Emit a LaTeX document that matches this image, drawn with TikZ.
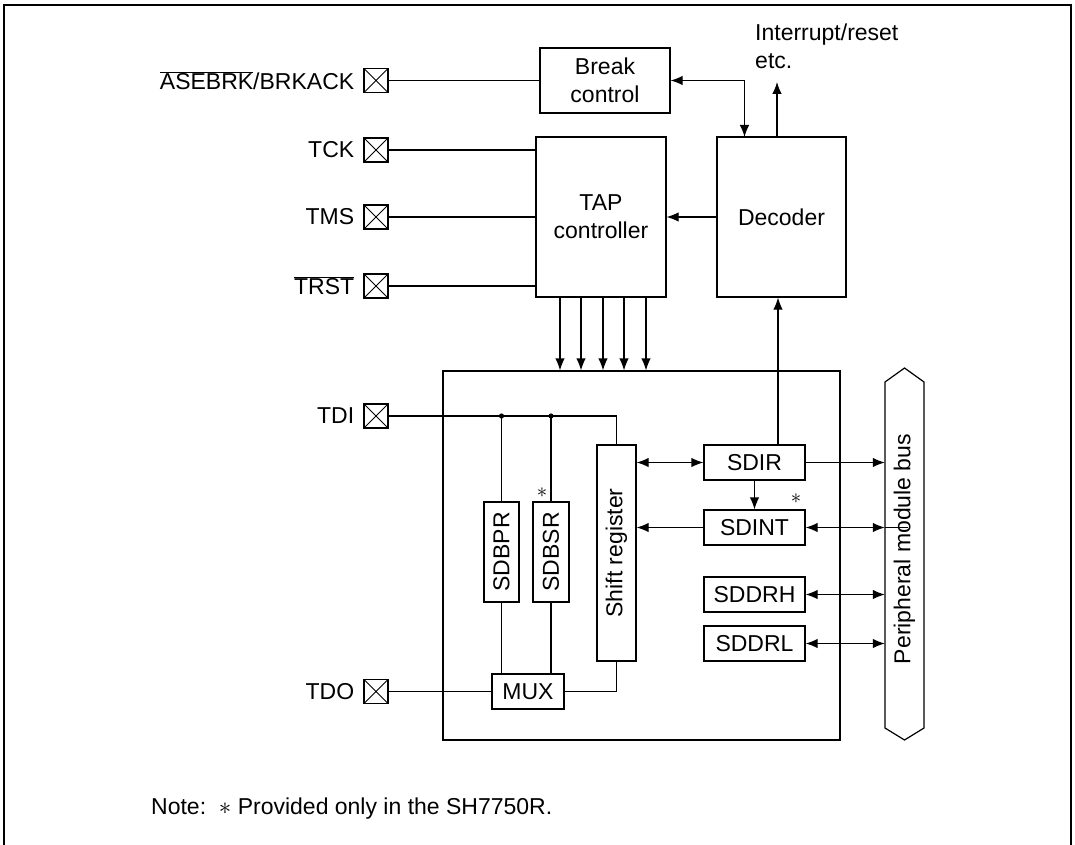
\documentclass[tikz,border=0pt]{standalone}
\usepackage{fontspec}
\setmainfont{Liberation Sans}
\usepackage{graphicx}
\usetikzlibrary{arrows.meta,calc}
\newcommand{\fs}{\fontsize{23}{28}\selectfont}
\newcommand{\fsmall}{\fontsize{20}{24}\selectfont}
\tikzset{
  box/.style={draw, line width=1.2pt, inner sep=0pt, align=center, font=\fs},
  pin/.style={draw, line width=1.2pt, minimum size=24, inner sep=0pt,
    path picture={\draw[line width=0.9pt] (path picture bounding box.south west) -- (path picture bounding box.north east)
      (path picture bounding box.north west) -- (path picture bounding box.south east);}},
  pinlabel/.style={anchor=east, inner sep=0pt, font=\fs},
  wire/.style={line width=1.2pt},
  tip/.style={},
  arr/.style={wire, -{Latex[length=12pt,width=9.5pt]}},
  darr/.style={wire, {Latex[length=12pt,width=9.5pt]}-{Latex[length=12pt,width=9.5pt]}},
  star/.style={inner sep=0pt, font=\fsmall},
}
\begin{document}
\begin{tikzpicture}[x=1pt,y=-1pt]
\useasboundingbox (0,0) rectangle (1075,845);
% frame
\draw[line width=2.5pt] (4,845) -- (4,5) -- (1071,5) -- (1071,845);

% main blocks
\node[box, minimum width=130, minimum height=65] (brk) at (605,80.5) {Break\\control};
\node[box, minimum width=130, minimum height=160] (tap) at (601,217) {TAP\\controller};
\node[box, minimum width=129, minimum height=160] (dec) at (781.5,217) {Decoder};
\node[box, minimum width=397, minimum height=369] (big) at (641.5,555.5) {};

% registers
\node[box, minimum width=35, minimum height=100] (sdbpr) at (501.5,552) {\rotatebox{90}{SDBPR}};
\node[box, minimum width=36, minimum height=100] (sdbsr) at (551,552) {\rotatebox{90}{SDBSR}};
\node[box, minimum width=39, minimum height=216] (shift) at (616.5,553) {\rotatebox{90}{Shift register}};
\node[box, minimum width=72, minimum height=35] (mux) at (528,691.5) {MUX};
\node[box, minimum width=101, minimum height=35] (sdir) at (754.5,462.5) {SDIR};
\node[box, minimum width=101, minimum height=35] (sdint) at (754.5,527.5) {SDINT};
\node[box, minimum width=101, minimum height=35] (sddrh) at (754.5,594.5) {SDDRH};
\node[box, minimum width=101, minimum height=35] (sddrl) at (754.5,643.5) {SDDRL};

% bus
\draw[wire] (885,382) -- (904.5,368) -- (924,382) -- (924,728) -- (904.5,740) -- (885,728) -- cycle;
\node[inner sep=0pt, minimum width=39, minimum height=346, font=\fs] (bus) at (904.5,549) {\rotatebox{90}{Peripheral module bus}};

% pins
\node[pin] (asebrk) at (376,80.5) {};
\node[pin] (tck) at (376,150) {};
\node[pin] (tms) at (376,217) {};
\node[pin] (trst) at (376,286) {};
\node[pin] (tdi) at (376,416) {};
\node[pin] (tdo) at (376,691.5) {};
\node[pinlabel] (lasebrk) at ([xshift=-9]asebrk.west) {$\overline{\mbox{ASEBRK}}$/BRKACK};
\node[pinlabel] (ltck) at ([xshift=-9]tck.west) {TCK};
\node[pinlabel] (ltms) at ([xshift=-9]tms.west) {TMS};
\node[pinlabel] (ltrst) at ([xshift=-9]trst.west) {$\overline{\mbox{TRST}}$};
\node[pinlabel] (ltdi) at ([xshift=-9]tdi.west) {TDI};
\node[pinlabel] (ltdo) at ([xshift=-9]tdo.west) {TDO};

% pin wires
\draw[wire] (asebrk.east) -- (brk.west);
\draw[wire] (tck.east) -- (tck.east -| tap.west);
\draw[wire] (tms.east) -- (tms.east -| tap.west);
\draw[wire] (trst.east) -- (trst.east -| tap.west);

% TAP to big box
\foreach \dx [count=\i] in {-41,-20,2,23,45}{
  \coordinate (t\i) at ($(tap.south)+(\dx,0)$);
  \draw[arr] (t\i) -- (t\i |- big.north);
}

% decoder connections
\draw[arr] (dec.west) -- (tap.east);
\coordinate (bk) at (744.5,137);
\draw[darr] (brk.east) -| (bk);
\coordinate (irq) at (777,82);
\draw[arr] (irq |- dec.north) -- (irq);
\node[anchor=north west, inner sep=0pt, align=left, font=\fs] (irqlabel) at (755,24) {Interrupt/reset\\etc.};
\coordinate (d1) at (778,445);
\draw[arr] (d1) -- (d1 |- dec.south);

% TDI path
\draw[wire] (tdi.east) -| (shift.north);
\fill (sdbpr.north |- tdi.east) circle (2.6);
\fill (sdbsr.north |- tdi.east) circle (2.6);
\draw[wire] (sdbpr.north |- tdi.east) -- (sdbpr.north);
\draw[wire] (sdbsr.north |- tdi.east) -- (sdbsr.north);
\draw[wire] (sdbpr.south) -- (sdbpr.south |- mux.north);
\draw[wire] (sdbsr.south) -- (sdbsr.south |- mux.north);
\draw[wire] (shift.south) |- (mux.east);
\draw[wire] (tdo.east) -- (mux.west);

% register connections
\draw[darr] (shift.east |- sdir.west) -- (sdir.west);
\draw[arr] (sdir.south) -- (sdint.north);
\draw[arr] (sdint.west) -- (shift.east |- sdint.west);
\draw[arr] (sdir.east) -- (sdir.east -| bus.west);
\draw[darr] (sdint.east) -- (sdint.east -| bus.west);
\draw[wire] (sdint.east -| bus.west) -- ++(23,0);
\draw[darr] (sddrh.east) -- (sddrh.east -| bus.west);
\draw[darr] (sddrl.east) -- (sddrl.east -| bus.west);

% asterisks
\node[star] (st1) at (542,493) {$\ast$};
\node[star] (st2) at (796,499) {$\ast$};

% note
\node[anchor=base west, inner sep=0pt, font=\fs] (note) at (151,814) {Note:\ \ $\ast$ Provided only in the SH7750R.};
\end{tikzpicture}
\end{document}
